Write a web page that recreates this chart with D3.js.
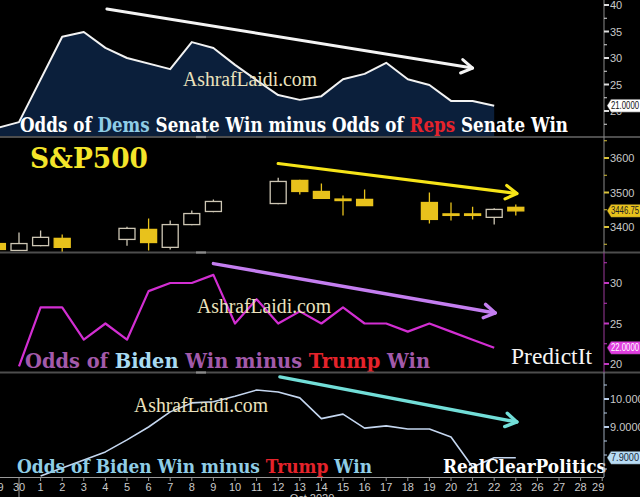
<!DOCTYPE html>
<html><head><meta charset="utf-8">
<script src="https://cdn.jsdelivr.net/npm/d3@7"></script>
<style>html,body{margin:0;padding:0;background:#000;overflow:hidden}</style>
</head><body>
<svg id="c" width="640" height="497"></svg>
<script>
// ---------- DATA ----------
const xLabels = ["29","30","1","2","3","4","5","6","7","8","9","10","11","12","13","14","15","16","17","18","19","20","21","22","23","26","27","28","29"];
const monthLabel = "Oct 2020";

// Panel 1: Odds of Dems Senate win minus Reps (by x index, null = no point)
const senateDiff = [16.8, 17.9, null, 34.0, 34.9, 31.9, 30.0, null, 27.9, 33.0, 31.9, 28.7, 25.8, 23.0, 22.1, 22.8, 26.0, 27.0, 29.1, 26.0, 24.9, 21.9, 21.9, 21.0];
const senateLast = 21.0;
const senateTicks = [20, 25, 30, 35, 40];

// Panel 2: S&P500 candles
const spxIdx   = [0, 1, 2, 3, 6, 7, 8, 9, 10, 13, 14, 15, 16, 17, 20, 21, 22, 23, 24];
const spxOpen  = [3352, 3332, 3346, 3367, 3364, 3393, 3341, 3407, 3445, 3468, 3535, 3503, 3481, 3480, 3471, 3438, 3438, 3428, 3457];
const spxHigh  = [3360, 3384, 3390, 3378, 3401, 3425, 3419, 3448, 3480, 3543, 3537, 3526, 3491, 3509, 3500, 3471, 3459, 3454, 3465];
const spxLow   = [3330, 3331, 3344, 3326, 3346, 3332, 3335, 3405, 3443, 3466, 3494, 3481, 3433, 3462, 3410, 3419, 3422, 3407, 3433];
const spxClose = [3335, 3352, 3370, 3341, 3396, 3355, 3407, 3439, 3474, 3532, 3503, 3483, 3477, 3462, 3422, 3435, 3436, 3451, 3446.75];
const spxLast = 3446.75;
const spxTicks = [3400, 3500, 3600];

// Panel 3: PredictIt Biden minus Trump
const predictIt = [null, 19.7, 27, 27, 23, 25, 23, 29, 30, 30, 31, 25, 28, 25, 26.5, 25, 27, 25, 25, 24, 25, 24, 23, 22];
const predictLast = 22.0;
const predictTicks = [20, 25, 30];

// Panel 4: RealClearPolitics Biden minus Trump
const rcp = [null, null, 7.25, 7.54, 7.82, 8.11, 8.54, 9.0, 9.54, 9.86, 9.9, 10.1, 10.32, 10.25, 10.04, 9.3, 9.46, 8.96, 9.04, 8.93, 8.93, 8.64, 7.57, 7.9, 7.9];
const rcpLast = 7.9;
const rcpTicks = [9, 10];

// Trend arrows: [startIndex, startValue, endIndex, endValue]
const senateArrow  = [5.07, 39.25, 22.0, 28.1];
const spxArrow     = [13.0, 3584, 24.05, 3497];
const predictArrow = [10.0, 32.4, 23.05, 26.3];
const rcpArrow     = [13.08, 10.79, 24.05, 9.18];

// ---------- LAYOUT ----------
const svg = d3.select("#c");
const W = 640, AX = 604;
const panels = [
  {y0: 0, y1: 137}, {y0: 137, y1: 252.5}, {y0: 252.5, y1: 372.5}, {y0: 372.5, y1: 477}
];
svg.append("rect").attr("width", W).attr("height", 497).attr("fill", "#000");

const x = d3.scaleLinear().domain([0, 28]).range([-2.6, 602.2]);
const y1 = d3.scaleLinear().domain([20, 40]).range([111, 5]);
const y2 = d3.scaleLinear().domain([3400, 3600]).range([227, 158]);
const y3 = d3.scaleLinear().domain([20, 30]).range([364, 283]);
const y4 = d3.scaleLinear().domain([9, 10]).range([427, 399]);

const defs = svg.append("defs");
panels.forEach((p, i) => {
  defs.append("clipPath").attr("id", "clip" + i)
    .append("rect").attr("x", 0).attr("y", p.y0).attr("width", AX).attr("height", p.y1 - p.y0);
});
const g = panels.map((p, i) => svg.append("g").attr("clip-path", `url(#clip${i})`));

const pts = arr => arr.map((v, i) => ({i, v})).filter(d => d.v != null);

// ---------- PANEL 1 ----------
const s1 = pts(senateDiff);
g[0].append("path").datum(s1)
  .attr("d", d3.area().x(d => x(d.i)).y0(panels[0].y1).y1(d => y1(d.v)))
  .attr("fill", "#0b1f3b");
g[0].append("path").datum(s1)
  .attr("d", d3.line().x(d => x(d.i)).y(d => y1(d.v)))
  .attr("fill", "none").attr("stroke", "#f2f2f2").attr("stroke-width", 2).attr("stroke-linejoin", "round");

// ---------- PANEL 2 ----------
const candles = spxIdx.map((ix, k) => ({ix, o: spxOpen[k], h: spxHigh[k], l: spxLow[k], c: spxClose[k]}));
const cw = 16, gold = "#e8c21c", hollow = "#cdc6b4";
const cg = g[1].selectAll("g.cd").data(candles).join("g");
cg.append("line")
  .attr("x1", d => x(d.ix)).attr("x2", d => x(d.ix))
  .attr("y1", d => y2(d.h)).attr("y2", d => y2(d.l))
  .attr("stroke", d => d.c >= d.o ? hollow : gold).attr("stroke-width", 1.3);
cg.append("rect")
  .attr("x", d => x(d.ix) - cw / 2).attr("width", cw)
  .attr("y", d => y2(Math.max(d.o, d.c)))
  .attr("height", d => Math.max(1.5, Math.abs(y2(d.o) - y2(d.c))))
  .attr("fill", d => d.c >= d.o ? "#000" : gold)
  .attr("stroke", d => d.c >= d.o ? hollow : gold).attr("stroke-width", 1.3);

// ---------- PANEL 3 ----------
g[2].append("path").datum(pts(predictIt))
  .attr("d", d3.line().x(d => x(d.i)).y(d => y3(d.v)))
  .attr("fill", "none").attr("stroke", "#d22ed2").attr("stroke-width", 2.2).attr("stroke-linejoin", "round");

// ---------- PANEL 4 ----------
g[3].append("path").datum(pts(rcp))
  .attr("d", d3.line().x(d => x(d.i)).y(d => y4(d.v)))
  .attr("fill", "none").attr("stroke", "#c4d6ef").attr("stroke-width", 1.6).attr("stroke-linejoin", "round");

// ---------- ARROWS ----------
function arrow(gr, a, ys, color, w) {
  const x1 = x(a[0]), yy1 = ys(a[1]), x2 = x(a[2]), yy2 = ys(a[3]);
  const ang = Math.atan2(yy2 - yy1, x2 - x1), L = 13, sp = 0.55;
  gr.append("line").attr("x1", x1).attr("y1", yy1).attr("x2", x2).attr("y2", yy2)
    .attr("stroke", color).attr("stroke-width", w).attr("stroke-linecap", "round");
  gr.append("path")
    .attr("d", `M${x2 - L * Math.cos(ang - sp)},${yy2 - L * Math.sin(ang - sp)}L${x2},${yy2}L${x2 - L * Math.cos(ang + sp)},${yy2 - L * Math.sin(ang + sp)}`)
    .attr("fill", "none").attr("stroke", color).attr("stroke-width", w).attr("stroke-linecap", "round").attr("stroke-linejoin", "round");
}
arrow(svg, senateArrow, y1, "#f4f4f4", 3);
arrow(svg, spxArrow, y2, "#f6e418", 3.2);
arrow(svg, predictArrow, y3, "#c47ef0", 3.4);
arrow(svg, rcpArrow, y4, "#72ded8", 3.4);

// ---------- WATERMARKS ----------
const wm = [[183, 86], [197, 313], [134, 412]];
wm.forEach(([wx, wy]) => {
  svg.append("text").attr("x", wx).attr("y", wy).text("AshrafLaidi.com")
    .attr("font-family", "Liberation Serif").attr("font-size", 20).attr("fill", "#ebe2bd")
    .attr("textLength", 134).attr("lengthAdjust", "spacingAndGlyphs");
});

// ---------- TITLES ----------
function rich(xp, yp, parts, size, len, bold, fam) {
  const t = svg.append("text").attr("x", xp).attr("y", yp)
    .attr("font-family", fam || "DejaVu Serif").attr("font-weight", bold ? "bold" : "normal")
    .attr("font-size", size).attr("textLength", len).attr("lengthAdjust", "spacingAndGlyphs")
    .style("white-space", "pre");
  parts.forEach(([s, c]) => t.append("tspan").text(s).attr("fill", c));
}
const W1 = "#ffffff", RED = "#e5232b", LB = "#8fcde6", PUR = "#a35aaa";
rich(20, 132, [["Odds of ", W1], ["Dems", LB], [" Senate Win minus Odds of ", W1], ["Reps", RED], [" Senate Win", W1]], 21, 548, true);
rich(30, 168, [["S&P500", "#f4e52a"]], 27, 118, true);
rich(25, 368, [["Odds of ", PUR], ["Biden", "#a9dbf2"], [" Win minus ", PUR], ["Trump", RED], [" Win", PUR]], 21, 405, true);
rich(511, 364, [["PredictIt", "#f4f4f4"]], 23, 81, false, "Liberation Serif");
rich(17, 473, [["Odds of Biden Win minus ", LB], ["Trump", RED], [" Win", LB]], 19, 355, true);
rich(443, 473, [["RealClearPolitics", "#ffffff"]], 19, 163, true);

// ---------- SEPARATORS ----------
[137, 252.5, 372.5].forEach(sy => {
  svg.append("line").attr("x1", 0).attr("x2", W).attr("y1", sy).attr("y2", sy)
    .attr("stroke", "#4d4d4d").attr("stroke-width", 2.2);
  svg.append("line").attr("x1", 196).attr("x2", 206).attr("y1", sy).attr("y2", sy)
    .attr("stroke", "#8a8a8a").attr("stroke-width", 2.2);
});

// ---------- RIGHT AXES ----------
const lblFont = "Liberation Sans";
function rightAxis(ys, p, ticks, minorStep, fmt, tickCol, axisCol) {
  svg.append("line").attr("x1", AX).attr("x2", AX).attr("y1", p.y0).attr("y2", p.y1)
    .attr("stroke", axisCol).attr("stroke-width", 1);
  const vTop = ys.invert(p.y0), vBot = ys.invert(p.y1);
  const minors = d3.range(Math.ceil(vBot / minorStep) * minorStep, vTop, minorStep)
    .filter(v => ys(v) > p.y0 + 2 && ys(v) < p.y1 - 2);
  svg.append("g").selectAll("line").data(minors).join("line")
    .attr("x1", AX).attr("x2", AX + 3).attr("y1", d => ys(d)).attr("y2", d => ys(d))
    .attr("stroke", tickCol).attr("stroke-width", 1);
  const tg = svg.append("g");
  tg.selectAll("line").data(ticks).join("line")
    .attr("x1", AX).attr("x2", AX + 5).attr("y1", d => ys(d)).attr("y2", d => ys(d))
    .attr("stroke", tickCol).attr("stroke-width", 2);
  tg.selectAll("text").data(ticks).join("text")
    .attr("x", AX + 6).attr("y", d => ys(d) + 4).text(fmt)
    .attr("font-family", lblFont).attr("font-size", 11).attr("fill", "#c9c9c9");
}
rightAxis(y1, panels[0], senateTicks, 2.5, d => d, "#dddddd", "#8a8a8a");
rightAxis(y2, panels[1], spxTicks, 50, d => d, "#d9c23a", "#8a8a8a");
rightAxis(y3, panels[2], predictTicks, 2.5, d => d, "#c238c2", "#9a3a9a");
rightAxis(y4, panels[3], rcpTicks, 0.5, d => d.toFixed(4), "#b8cde8", "#9aa6b6");

function lastBox(yv, txt, bg, fg) {
  const h = 13, x0 = AX + 3;
  svg.append("path")
    .attr("d", `M${x0},${yv}L${x0 + 4},${yv - h / 2}L${W + 2},${yv - h / 2}L${W + 2},${yv + h / 2}L${x0 + 4},${yv + h / 2}Z`)
    .attr("fill", bg).attr("stroke", "#222").attr("stroke-width", 0.5);
  svg.append("text").attr("x", x0 + 4).attr("y", yv + 3.5).text(txt)
    .attr("font-family", lblFont).attr("font-size", 10).attr("fill", fg)
    .attr("textLength", 28).attr("lengthAdjust", "spacingAndGlyphs");
}
lastBox(y1(senateLast), senateLast.toFixed(4), "#ffffff", "#111");
lastBox(y2(spxLast), String(spxLast), gold, "#222");
lastBox(y3(predictLast), predictLast.toFixed(4), "#e03ee0", "#ffffff");
lastBox(y4(rcpLast), rcpLast.toFixed(4), "#b8dcf4", "#1a2a3a");

// ---------- X AXIS ----------
const xa = svg.append("g");
xa.append("line").attr("x1", 0).attr("x2", AX).attr("y1", 477.5).attr("y2", 477.5)
  .attr("stroke", "#9a9a9a").attr("stroke-width", 1);
xa.selectAll("line.t").data(xLabels).join("line").attr("class", "t")
  .attr("x1", (d, i) => x(i)).attr("x2", (d, i) => x(i))
  .attr("y1", 477.5).attr("y2", (d, i) => i === 1 ? 497 : 481)
  .attr("stroke", "#9a9a9a").attr("stroke-width", 1);
xa.selectAll("text").data(xLabels).join("text")
  .attr("x", (d, i) => i === xLabels.length - 1 ? x(i) - 4 : x(i)).attr("y", 491)
  .attr("text-anchor", "middle").text(d => d)
  .attr("font-family", lblFont).attr("font-size", 11).attr("fill", "#c9c9c9");
xa.append("text").attr("x", 312).attr("y", 502).attr("text-anchor", "middle").text(monthLabel)
  .attr("font-family", lblFont).attr("font-size", 11).attr("fill", "#c9c9c9");
</script>
</body></html>
